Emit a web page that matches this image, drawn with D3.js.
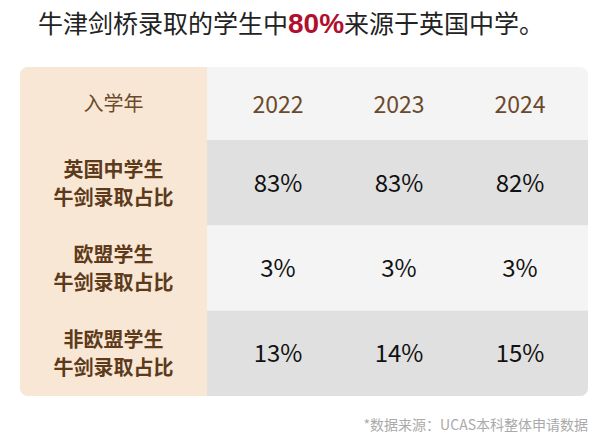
<!DOCTYPE html><html><head><meta charset="utf-8"><script src="https://cdn.jsdelivr.net/npm/d3@7"></script>
<style>body{margin:0;background:#fff}text{font-family:"Noto Sans CJK SC",sans-serif}</style></head><body><svg id="c" width="609" height="443"></svg>
<script>
const years=["2022","2023","2024"];
const rowLabels=[["英国中学生","牛剑录取占比"],["欧盟学生","牛剑录取占比"],["非欧盟学生","牛剑录取占比"]];
const values=[[83,83,82],[3,3,3],[13,14,15]];
const svg=d3.select("#c");
const X0=20,X1=588,LC=207,Y0=67,HB=140,Y1=396;
const x=d3.scalePoint().domain(years).range([278,520]);
const y=d3.scaleBand().domain(d3.range(3)).range([HB,Y1]);
const t=svg.append("text").attr("x",38).attr("y",33).attr("font-size",25).attr("fill","#222");
t.append("tspan").text("牛津剑桥录取的学生中");
t.append("tspan").text("80%").attr("fill","#b0102e").attr("font-weight","bold").attr("font-family","Liberation Sans, Arial").attr("font-size",28);
t.append("tspan").text("来源于英国中学。");
svg.append("defs").append("clipPath").attr("id","cl").append("rect").attr("x",X0).attr("y",Y0).attr("width",X1-X0).attr("height",Y1-Y0).attr("rx",8);
const g=svg.append("g").attr("clip-path","url(#cl)");
g.append("rect").attr("x",X0).attr("y",Y0).attr("width",X1-X0).attr("height",Y1-Y0).attr("fill","#f4f4f4");
g.selectAll(".r").data(d3.range(3)).join("rect").attr("x",LC).attr("y",i=>y(i)).attr("width",X1-LC).attr("height",y.bandwidth()).attr("fill",i=>i%2?"#f4f4f4":"#e0e0e0");
g.append("rect").attr("x",X0).attr("y",Y0).attr("width",LC-X0).attr("height",Y1-Y0).attr("fill","#f8e7d4");
const cx=(X0+LC)/2;
svg.append("text").attr("x",cx).attr("y",(Y0+HB)/2+7).attr("text-anchor","middle").attr("font-size",20).attr("fill","#6b4a2b").text("入学年");
svg.selectAll(".y").data(years).join("text").attr("x",d=>x(d)).attr("y",(Y0+HB)/2+9).attr("text-anchor","middle").attr("font-size",23).attr("fill","#6b4a2b").attr("font-family","Roboto").text(d=>d);
rowLabels.forEach((l,i)=>{const c=y(i)+y.bandwidth()/2;
 l.forEach((s,j)=>svg.append("text").attr("x",cx).attr("y",c+(j?22:-6)).attr("text-anchor","middle").attr("font-size",20).attr("font-weight","bold").attr("fill","#5c3a1a").text(s));
 values[i].forEach((v,k)=>svg.append("text").attr("x",x(years[k])).attr("y",c+9).attr("text-anchor","middle").attr("font-size",24).attr("fill","#111").attr("font-family","Liberation Sans, Arial").text(v+"%"));
});
svg.append("text").attr("x",588).attr("y",430).attr("text-anchor","end").attr("font-size",14).attr("fill","#aaa").text("*数据来源：UCAS本科整体申请数据");
</script></body></html>
